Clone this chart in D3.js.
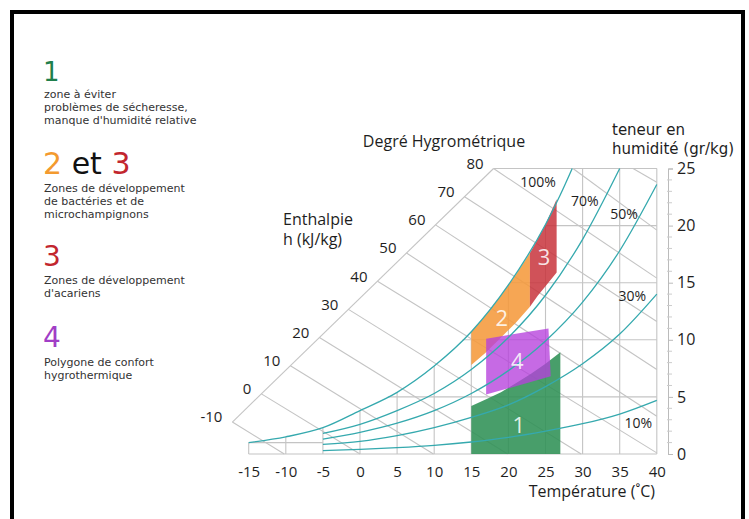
<!DOCTYPE html>
<html><head><meta charset="utf-8">
<script src="https://cdn.jsdelivr.net/npm/d3@7"></script>
<style>
html,body{margin:0;padding:0;background:#fff;}
svg{display:block;font-family:"Open Sans",sans-serif;}
</style></head><body>
<svg id="chart" width="749" height="519"></svg>
<script>
// ---- axis ticks ----
const temperatureTicks = [-15,-10,-5,0,5,10,15,20,25,30,35,40];
const moistureTicks = [0,5,10,15,20,25];
const moistureMinorTicks = [1,2,3,4,6,7,8,9,11,12,13,14,16,17,18,19,21,22,23,24];
const enthalpyTicks = [-10,0,10,20,30,40,50,60,70,80];

// ---- saturation curve (100 %) : temperature °C / moisture g/kg ----
const saturationT = [-15,-10,-5,0,5,10,15,20,25,27,28.6];
const saturationW = [1.0,1.5,2.3,3.8,5.4,7.7,10.7,14.8,20.1,22.7,25];

// ---- relative humidity curves ----
const rh70T = [-5,0,5,10,15,20,25,30,35];
const rh70W = [1.8,2.6,3.8,5.3,7.4,10.2,13.9,18.8,25];
const rhT   = [-5,0,5,10,15,20,25,30,35,40];
const rh50W = [1.3,1.9,2.7,3.8,5.3,7.3,9.9,13.3,17.8,23.6];
const rh30W = [0.85,1.1,1.6,2.3,3.2,4.3,5.9,7.9,10.5,14.0];
const rh10W = [0.3,0.4,0.55,0.75,1.05,1.45,2.0,2.65,3.5,4.7];
const rhLabels = ["100%","70%","50%","30%","10%"];

// ---- enthalpy lines (kJ/kg) ----
const enthalpyAxisH = [-10, 80];
const enthalpyAxisT = [-17.2, 18.0];
const enthalpyAxisW = [2.8, 25.0];
const enthalpyLines = [-10,0,10,20,30,40,50,60,70,80,90,100];
const enthalpyEndT  = [-10.2,0,9.9,19.9,29.8,40,40,40,40,40,40,40];
const enthalpyEndW  = [0,0,0,0,0,0.1,3.3,7.4,11.6,15.4,19.6,23.8];
const enthalpyTopT  = [28.7, 36.8];   // start of lines 90 and 100 on the 25 g/kg border

// ---- zones ----
const zone1T = [15,15,17,19,21,23,25,27,27];
const zone1W = [0,4.2,4.8,5.4,6.2,7.0,7.9,8.9,0];
const zone2T = [15,17,19,21,22.9,22.9,21,19,17,15];
const zone2W = [10.7,12.2,13.9,15.7,17.6,12.9,11.5,10.2,8.9,7.8];
const zone3T = [22.9,24,25,26.5,26.5,25,24,22.9];
const zone3W = [17.6,18.9,20.1,22.3,15.9,14.7,13.9,12.9];
const zone4T = [17,17,25.4,25.7];
const zone4W = [5.2,10.1,11.0,6.8];
const zoneNames = ["1","2","3","4"];

// ---- legend ----
const legendHeads = [
  [["1","#1f7f4c"]],
  [["2","#f39a2f"],[" et ","#111"],["3","#c2262e"]],
  [["3","#c2262e"]],
  [["4","#a13ec6"]]
];
const legendTexts = [
  ["zone à éviter","problèmes de sécheresse,","manque d'humidité relative"],
  ["Zones de développement","de bactéries et de","microchampignons"],
  ["Zones de développement","d'acariens"],
  ["Polygone de confort","hygrothermique"]
];

const svg = d3.select("#chart");
const x = d3.scaleLinear().domain([-15,40]).range([248.7,656.8]);
const y = d3.scaleLinear().domain([0,25]).range([454,168.5]);

const gridColor = "#c4c4c4";
const teal = "#35a9ae";
const ink = "#1e1e1e";

const gGrid = svg.append("g").attr("fill","none").attr("stroke",gridColor).attr("stroke-width",1.1);
const satAt = d3.scaleLinear().domain(saturationT).range(saturationW);
const satInv = d3.scaleLinear().domain(saturationW).range(saturationT);

// vertical grid lines: from the floor up to the saturation curve (or the top border)
temperatureTicks.forEach(t => {
  const top = t >= saturationT[saturationT.length-1] ? 25 : satAt(t);
  gGrid.append("line").attr("x1",x(t)).attr("x2",x(t)).attr("y1",y(0)).attr("y2",y(top));
});
// horizontal grid lines: from the saturation curve to 40 °C
moistureTicks.forEach(w => {
  gGrid.append("line").attr("x1",x(w < 1 ? -15 : satInv(w))).attr("x2",x(40)).attr("y1",y(w)).attr("y2",y(w));
});
// low temperature ledge
gGrid.append("line").attr("x1",x(-15)).attr("x2",x(-5)).attr("y1",y(saturationW[0])).attr("y2",y(saturationW[0]));

// enthalpy scale along the diagonal axis
const hT = d3.scaleLinear().domain(enthalpyAxisH).range(enthalpyAxisT);
const hW = d3.scaleLinear().domain(enthalpyAxisH).range(enthalpyAxisW);
gGrid.append("line")
  .attr("x1",x(hT(-10))).attr("y1",y(hW(-10))).attr("x2",x(hT(80))).attr("y2",y(hW(80)));
// top border
gGrid.append("line").attr("x1",x(hT(80))).attr("x2",x(40)).attr("y1",y(25)).attr("y2",y(25));

enthalpyLines.forEach((h,i) => {
  let t0, w0;
  if (h <= 80) { t0 = hT(h); w0 = hW(h); }
  else { t0 = enthalpyTopT[i - enthalpyTicks.length]; w0 = 25; }
  gGrid.append("line").attr("x1",x(t0)).attr("y1",y(w0))
    .attr("x2",x(enthalpyEndT[i])).attr("y2",y(enthalpyEndW[i]));
});

// ---- zones ----
function poly(ts, ws){ return ts.map((t,i)=>[x(t),y(ws[i])]); }
const gZones = svg.append("g");
const zones = [
  {pts: poly(zone1T,zone1W), fill:"#2f9155", op:0.88},
  {pts: poly(zone2T,zone2W), fill:"#f59a3c", op:0.88},
  {pts: poly(zone3T,zone3W), fill:"#c8343c", op:0.85},
  {pts: poly(zone4T,zone4W), fill:"#b640dc", op:0.78}
];
zones.forEach(z => {
  gZones.append("path").attr("d", d3.line()(z.pts) + "Z").attr("fill", z.fill).attr("fill-opacity", z.op);
});

// ---- humidity curves ----
const curve = d3.line().x(d=>x(d[0])).y(d=>y(d[1])).curve(d3.curveMonotoneX);
const gCurves = svg.append("g").attr("fill","none").attr("stroke",teal).attr("stroke-width",1.3);
const rhSeries = [
  saturationT.map((t,i)=>[t,saturationW[i]]),
  rh70T.map((t,i)=>[t,rh70W[i]]),
  rhT.map((t,i)=>[t,rh50W[i]]),
  rhT.map((t,i)=>[t,rh30W[i]]),
  rhT.map((t,i)=>[t,rh10W[i]])
];
rhSeries.forEach(s => gCurves.append("path").attr("d", curve(s)));

// zone numbers
const zoneLabelT = [21.4,19.1,24.8,21.2];
const zoneLabelW = [2.5,11.9,17.2,8.1];
zoneNames.forEach((n,i)=>{
  svg.append("text").attr("x",x(zoneLabelT[i])).attr("y",y(zoneLabelW[i]))
    .attr("text-anchor","middle").attr("dy","0.36em").attr("font-size",22)
    .attr("fill","#ffffff").attr("fill-opacity",0.85).text(n);
});

// curve labels
const rhLabelT = [24.0,30.3,35.6,36.7,37.5];
const rhLabelW = [23.8,22.2,21.0,13.8,2.7];
rhLabels.forEach((l,i)=>{
  svg.append("text").attr("x",x(rhLabelT[i])).attr("y",y(rhLabelW[i])).attr("dy","0.36em")
    .attr("text-anchor","middle").attr("font-size",14).attr("fill",ink).text(l);
});

// enthalpy labels
enthalpyTicks.forEach(h=>{
  svg.append("text").attr("x",x(hT(h))-10).attr("y",y(hW(h))-5).attr("dy","0.36em")
    .attr("text-anchor","end").attr("font-size",15).attr("fill",ink).text(h);
});

// temperature axis labels
const xAxis = d3.axisBottom(x).tickValues(temperatureTicks).tickSize(0).tickPadding(12)
  .tickFormat(d => d);
svg.append("g").attr("transform",`translate(0,${y(0)})`).call(xAxis)
  .call(g=>g.select(".domain").remove())
  .call(g=>g.selectAll("text").attr("font-size",15).attr("fill",ink).attr("font-family","Open Sans"));

// moisture axis (right)
const axisX = 668;
const gy = svg.append("g").attr("transform",`translate(${axisX},0)`);
gy.call(d3.axisRight(y).tickValues(moistureTicks).tickSize(5).tickPadding(4).tickFormat(d=>d))
  .call(g=>g.select(".domain").attr("stroke","#bbb"))
  .call(g=>g.selectAll(".tick line").attr("stroke","#bbb"))
  .call(g=>g.selectAll("text").attr("font-size",16).attr("fill",ink).attr("font-family","Open Sans"));
gy.selectAll(".minor").data(moistureMinorTicks).join("line").attr("class","minor")
  .attr("x1",-1).attr("x2",4).attr("y1",d=>y(d)).attr("y2",d=>y(d)).attr("stroke","#ccc");

// titles
const title = (tx, ty, s, anchor) => svg.append("text").attr("x",tx).attr("y",ty)
  .attr("text-anchor",anchor || "start").attr("font-size",16).attr("fill",ink).text(s);
title(444,147,"Degré Hygrométrique","middle");
title(283,225,"Enthalpie");
title(283,245,"h (kJ/kg)");
title(612,135,"teneur en").attr("font-family","DejaVu Sans").attr("font-size",15);
title(612,153.5,"humidité (gr/kg)").attr("font-family","DejaVu Sans").attr("font-size",15);
title(655,497,"Température (˚C)","end");

// legend: coloured heading digits, then the description lines
const legendFont = "DejaVu Sans";
const headBaseline = [80.5, 173.5, 266, 347];
const headSize = [26, 30, 28, 28];
const textBaseline = [97.5, 191.5, 284, 366];
legendHeads.forEach((head, k) => {
  const t = svg.append("text").attr("x",43).attr("y",headBaseline[k])
    .attr("font-family",legendFont).attr("font-size",headSize[k]);
  head.forEach(p => t.append("tspan").attr("fill",p[1]).text(p[0]));
  legendTexts[k].forEach((s,i) => svg.append("text").attr("x",44).attr("y",textBaseline[k] + i*13)
    .attr("font-family",legendFont).attr("font-size",11).attr("fill","#333").text(s));
});

// frame
svg.append("rect").attr("x",12).attr("y",12).attr("width",731).attr("height",530)
  .attr("fill","none").attr("stroke","#000").attr("stroke-width",4);
</script>
</body></html>
